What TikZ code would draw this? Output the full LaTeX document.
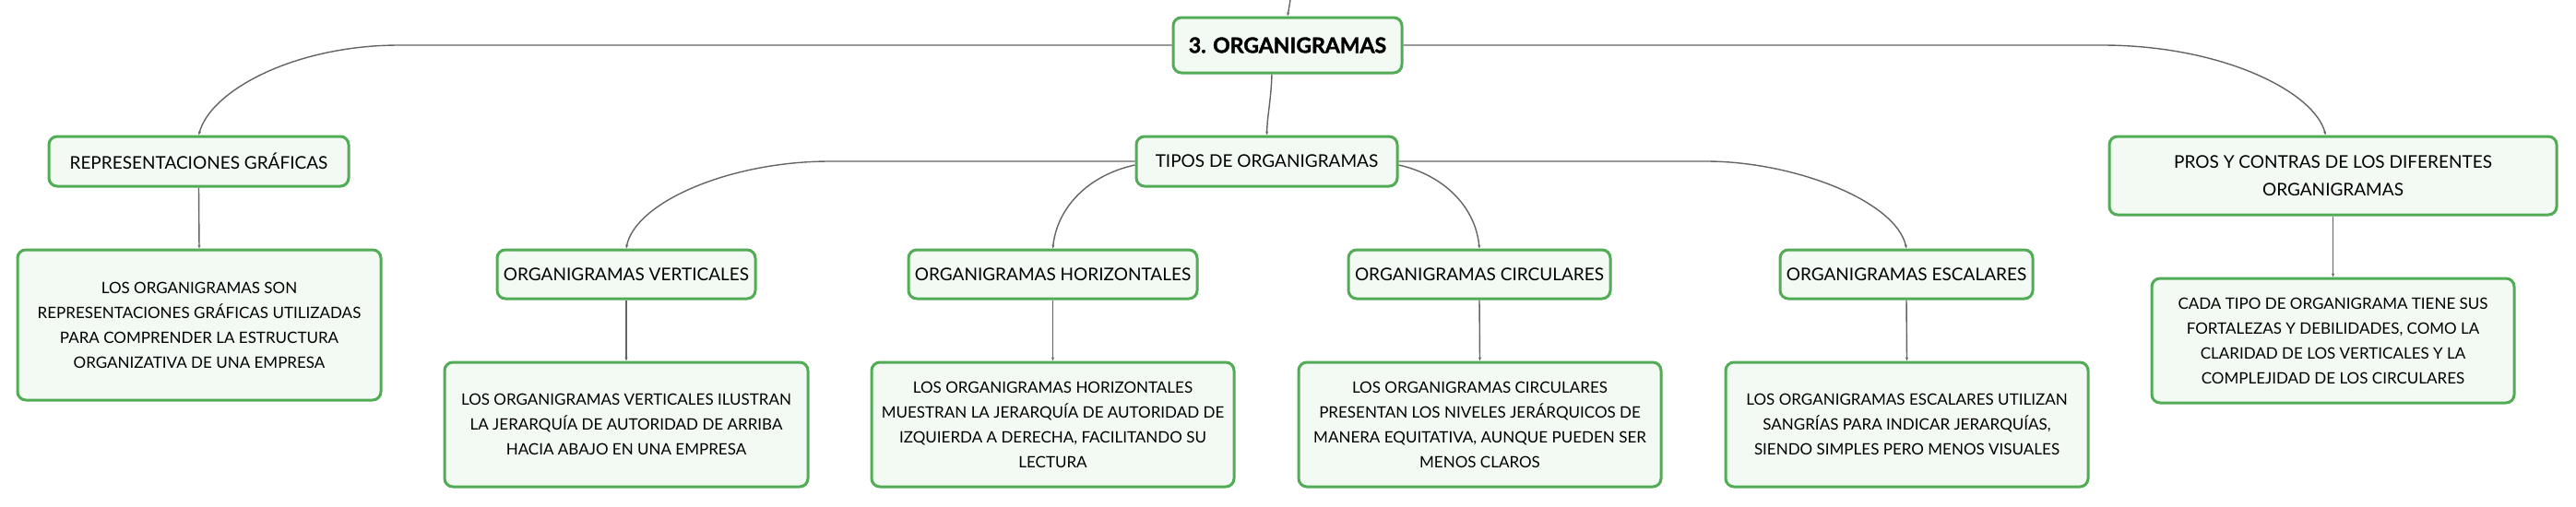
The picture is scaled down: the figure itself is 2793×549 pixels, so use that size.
\documentclass[tikz,border=0pt]{standalone}
\usepackage{fontspec}
\setmainfont{Lato}
\usetikzlibrary{arrows.meta}
\definecolor{boxgreen}{RGB}{82,172,86}
\definecolor{boxfill}{RGB}{243,250,243}
\definecolor{linkgray}{RGB}{100,100,100}
\tikzset{
  mapbox/.style={draw=boxgreen, fill=boxfill, line width=3pt, rounded corners=9pt,
    inner sep=0pt, align=center, text=black},
  lbl/.style={mapbox, font=\fontsize{19}{30}\selectfont},
  dsc/.style={mapbox, font=\fontsize{17}{27}\selectfont},
  ttl/.style={mapbox, font=\fontsize{23}{26}\selectfont\bfseries\addfontfeatures{FakeBold=1.6}},
  link/.style={draw=linkgray, line width=1.4pt, -{Stealth[length=4pt,width=3pt]}}
}
\begin{document}
\begin{tikzpicture}[x=1pt,y=-1pt]
\useasboundingbox (0,0) rectangle (2793,549);
\fill[white] (0,0) rectangle (2793,549);

% nodes
\node[ttl, minimum width=248, minimum height=60] (main) at (1396,49) {3. ORGANIGRAMAS};
\node[lbl, minimum width=283, minimum height=54] (tipos) at (1373.5,175) {TIPOS DE ORGANIGRAMAS};
\node[lbl, minimum width=325, minimum height=54] (rep) at (215.5,175) {REPRESENTACIONES GRÁFICAS};
\node[dsc, minimum width=394, minimum height=163] (repd) at (216,352.5)
  {LOS ORGANIGRAMAS SON\\REPRESENTACIONES GRÁFICAS UTILIZADAS\\PARA COMPRENDER LA ESTRUCTURA\\ORGANIZATIVA DE UNA EMPRESA};
\node[lbl, minimum width=485, minimum height=85] (pros) at (2529.5,190.5)
  {PROS Y CONTRAS DE LOS DIFERENTES\\ORGANIGRAMAS};
\node[dsc, minimum width=393, minimum height=135] (prosd) at (2529.5,369.5)
  {CADA TIPO DE ORGANIGRAMA TIENE SUS\\FORTALEZAS Y DEBILIDADES, COMO LA\\CLARIDAD DE LOS VERTICALES Y LA\\COMPLEJIDAD DE LOS CIRCULARES};
\node[lbl, minimum width=280, minimum height=53] (ver) at (679,297.5) {ORGANIGRAMAS VERTICALES};
\node[dsc, minimum width=394, minimum height=135] (verd) at (679,460.5)
  {LOS ORGANIGRAMAS VERTICALES ILUSTRAN\\LA JERARQUÍA DE AUTORIDAD DE ARRIBA\\HACIA ABAJO EN UNA EMPRESA};
\node[lbl, minimum width=313, minimum height=53] (hor) at (1141.5,297.5) {ORGANIGRAMAS HORIZONTALES};
\node[dsc, minimum width=393, minimum height=135] (hord) at (1141.5,460.5)
  {LOS ORGANIGRAMAS HORIZONTALES\\MUESTRAN LA JERARQUÍA DE AUTORIDAD DE\\IZQUIERDA A DERECHA, FACILITANDO SU\\LECTURA};
\node[lbl, minimum width=284, minimum height=53] (cir) at (1604,297.5) {ORGANIGRAMAS CIRCULARES};
\node[dsc, minimum width=393, minimum height=135] (cird) at (1604.5,460.5)
  {LOS ORGANIGRAMAS CIRCULARES\\PRESENTAN LOS NIVELES JERÁRQUICOS DE\\MANERA EQUITATIVA, AUNQUE PUEDEN SER\\MENOS CLAROS};
\node[lbl, minimum width=274, minimum height=53] (esc) at (2067,297.5) {ORGANIGRAMAS ESCALARES};
\node[dsc, minimum width=393, minimum height=135] (escd) at (2067.5,460.5)
  {LOS ORGANIGRAMAS ESCALARES UTILIZAN\\SANGRÍAS PARA INDICAR JERARQUÍAS,\\SIENDO SIMPLES PERO MENOS VISUALES};

% helper coordinates
\coordinate (top) at (1399,0);
\coordinate (kl) at (433,49);
\coordinate (kr) at (2279,49);
\coordinate (kv) at (900,175);
\coordinate (ke) at (1850,175);

% connectors
\draw[link] (top) .. controls (1398,8) .. (main.north);
\draw[link] ([xshift=-17pt]main.south) .. controls (1378,110) and (1374,125) .. (tipos.north);
\draw[link] (main.west) -- (kl) .. controls (320,49) and (228,98) .. (rep.north);
\draw[link] (main.east) -- (kr) .. controls (2410,49) and (2510,100) .. ([xshift=-8pt]pros.north);
\draw[link] (rep.south) -- (repd.north);
\draw[link] (pros.south) -- (prosd.north);
\draw[link] (tipos.west) -- (kv) .. controls (790,175) and (688,220) .. (ver.north);
\draw[link] ([yshift=-4pt]tipos.west) .. controls (1180,190) and (1146,225) .. (hor.north);
\draw[link] ([yshift=-4pt]tipos.east) .. controls (1566,190) and (1600,225) .. (cir.north);
\draw[link] (tipos.east) -- (ke) .. controls (1945,175) and (2056,218) .. (esc.north);
\draw[link] (ver.south) -- (verd.north);
\draw[link] (hor.south) -- (hord.north);
\draw[link] (cir.south) -- (cird.north);
\draw[link] (esc.south) -- (escd.north);
\end{tikzpicture}
\end{document}
